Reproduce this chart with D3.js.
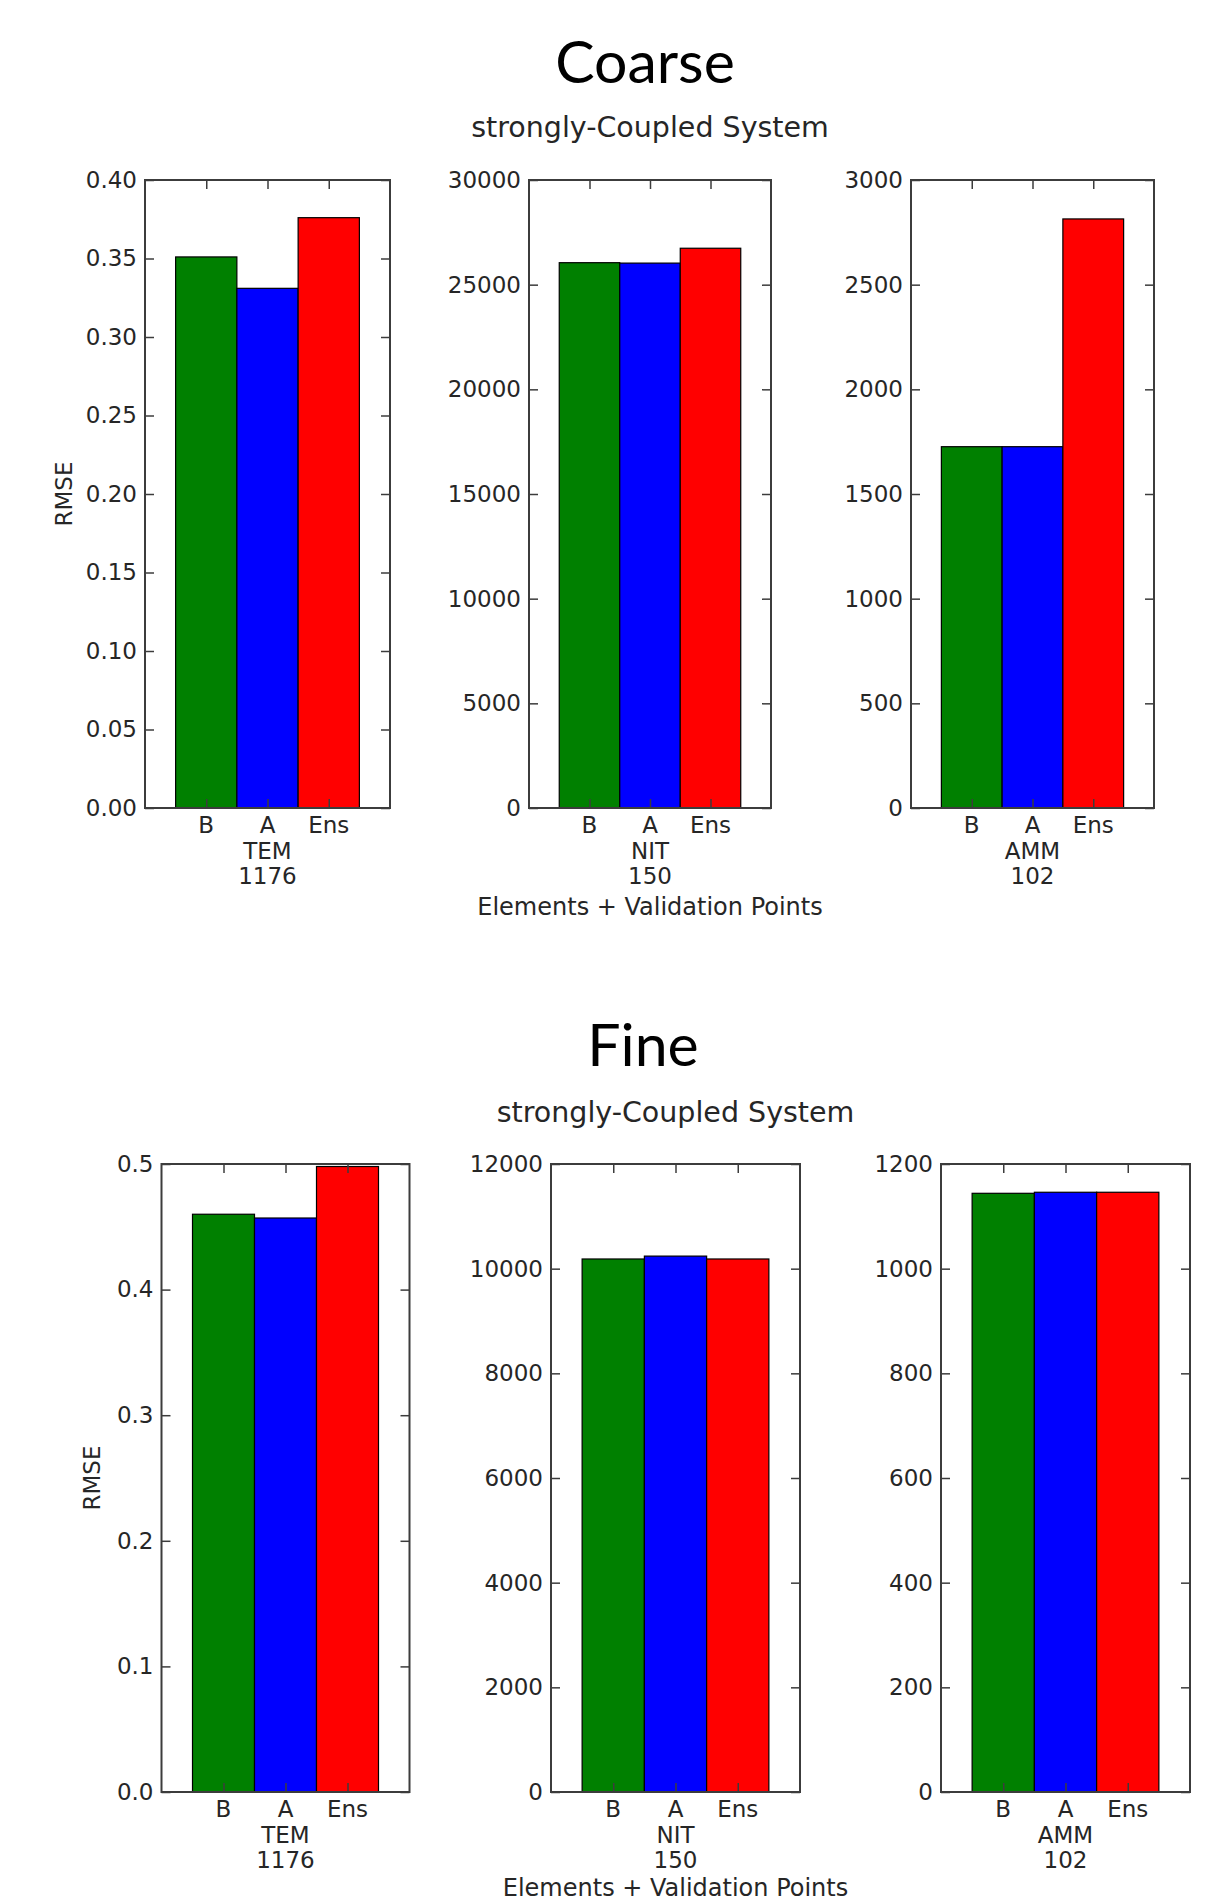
<!DOCTYPE html>
<html>
<head>
<meta charset="utf-8">
<script src="https://cdn.jsdelivr.net/npm/d3@7"></script>
<style>
  body { margin: 0; background: #fff; }
  svg { display: block; }
</style>
</head>
<body>
<script>
// Methods compared in every panel, and their bar colours
const methods = ["B", "A", "Ens"];
const methodColors = ["#008000", "#0000ff", "#ff0000"];

// Variables (one panel each) and their number of elements + validation points
const variables = ["TEM", "NIT", "AMM"];
const validationPoints = [1176, 150, 102];

// RMSE per variable, coarse resolution
const coarseB   = [0.351, 26050, 1726];
const coarseA   = [0.331, 26030, 1726];
const coarseEns = [0.376, 26740, 2814];

// RMSE per variable, fine resolution
const fineB   = [0.460, 10185, 1144];
const fineA   = [0.457, 10240, 1146];
const fineEns = [0.498, 10185, 1146];

// Y-axis tick values per panel
const coarseTicks = [
  [0, 0.05, 0.10, 0.15, 0.20, 0.25, 0.30, 0.35, 0.40],
  [0, 5000, 10000, 15000, 20000, 25000, 30000],
  [0, 500, 1000, 1500, 2000, 2500, 3000]
];
const fineTicks = [
  [0, 0.1, 0.2, 0.3, 0.4, 0.5],
  [0, 2000, 4000, 6000, 8000, 10000, 12000],
  [0, 200, 400, 600, 800, 1000, 1200]
];
const coarseTickFormat = [".2f", "d", "d"];
const fineTickFormat = [".1f", "d", "d"];

const W = 1225, H = 1903;
const svg = d3.select("body").append("svg")
  .attr("width", W).attr("height", H)
  .attr("viewBox", `0 0 ${W} ${H}`);

const tickFont = "'DejaVu Sans', sans-serif";
const axisColor = "#3c3c3c";
const textColor = "#262626";

const sections = [
  {
    title: "Coarse", titleX: 645, titleY: 83, subY: 137,
    top: 180, bottom: 808, ylabelX: 64, xlabelY: 915,
    frames: [[145, 390], [529, 771], [911, 1154]],
    series: [coarseB, coarseA, coarseEns],
    ticks: coarseTicks, fmt: coarseTickFormat
  },
  {
    title: "Fine", titleX: 643, titleY: 1066, subY: 1122,
    top: 1164, bottom: 1792, ylabelX: 92, xlabelY: 1896,
    frames: [[161.5, 409.5], [551, 800], [941, 1190]],
    series: [fineB, fineA, fineEns],
    ticks: fineTicks, fmt: fineTickFormat
  }
];

sections.forEach(sec => {
  const g = svg.append("g");

  // Section heading
  g.append("text")
    .attr("x", sec.titleX).attr("y", sec.titleY)
    .attr("text-anchor", "middle")
    .style("font-family", "Lato, 'Open Sans', sans-serif")
    .style("font-size", "59px")
    .attr("fill", "#000")
    .text(sec.title);

  const midFrame = sec.frames[1];
  const midX = (midFrame[0] + midFrame[1]) / 2;

  // Figure subtitle over the middle panel
  g.append("text")
    .attr("x", midX).attr("y", sec.subY)
    .attr("text-anchor", "middle")
    .style("font-family", tickFont)
    .style("font-size", "28.5px")
    .attr("fill", textColor)
    .text("strongly-Coupled System");

  sec.frames.forEach((fr, p) => {
    const pg = g.append("g");
    const ticks = sec.ticks[p];
    const yMax = ticks[ticks.length - 1];
    const x = d3.scaleLinear().domain([0, 4]).range([fr[0], fr[1]]);
    const y = d3.scaleLinear().domain([0, yMax]).range([sec.bottom, sec.top]);

    const bars = methods.map((m, i) => ({
      method: m, color: methodColors[i], pos: i + 1, value: sec.series[i][p]
    }));

    // Bars
    pg.selectAll("rect.bar").data(bars).enter().append("rect")
      .attr("class", "bar")
      .attr("x", d => x(d.pos - 0.5))
      .attr("width", d => x(d.pos + 0.5) - x(d.pos - 0.5))
      .attr("y", d => y(d.value))
      .attr("height", d => y(0) - y(d.value))
      .attr("fill", d => d.color)
      .attr("stroke", "#000")
      .attr("stroke-width", 1.2);

    // Left axis with inward ticks
    const fmt = d3.format(sec.fmt[p]);
    const left = pg.append("g")
      .attr("transform", `translate(${fr[0]},0)`)
      .call(d3.axisLeft(y).tickValues(ticks).tickFormat(fmt).tickSizeInner(-9).tickSizeOuter(0).tickPadding(8));
    left.select(".domain").remove();
    left.selectAll(".tick line").attr("stroke", axisColor).attr("stroke-width", 1.5);
    left.selectAll(".tick text")
      .style("font-family", tickFont).style("font-size", "23px")
      .attr("fill", textColor);

    // Right axis ticks, inward
    const right = pg.append("g")
      .attr("transform", `translate(${fr[1]},0)`)
      .call(d3.axisRight(y).tickValues(ticks).tickFormat("").tickSizeInner(-9).tickSizeOuter(0));
    right.select(".domain").remove();
    right.selectAll(".tick line").attr("stroke", axisColor).attr("stroke-width", 1.5);

    // Top axis ticks at bar centres, inward
    const top = pg.append("g")
      .attr("transform", `translate(0,${sec.top})`)
      .call(d3.axisTop(x).tickValues([1, 2, 3]).tickFormat("").tickSizeInner(-9).tickSizeOuter(0));
    top.select(".domain").remove();
    top.selectAll(".tick line").attr("stroke", axisColor).attr("stroke-width", 1.5);

    // Bottom axis ticks at bar centres, inward, with method labels
    const bottom = pg.append("g")
      .attr("transform", `translate(0,${sec.bottom})`)
      .call(d3.axisBottom(x).tickValues([1, 2, 3]).tickFormat("").tickSizeInner(-9).tickSizeOuter(0));
    bottom.select(".domain").remove();
    bottom.selectAll(".tick line").attr("stroke", axisColor).attr("stroke-width", 1.5);

    bars.forEach((d, i) => {
      const lines = i === 1 ? [d.method, variables[p], String(validationPoints[p])] : [d.method];
      const t = pg.append("text")
        .attr("x", x(d.pos))
        .attr("y", sec.bottom + 25)
        .attr("text-anchor", "middle")
        .style("font-family", tickFont).style("font-size", "23px")
        .attr("fill", textColor);
      lines.forEach((ln, k) => {
        t.append("tspan").attr("x", x(d.pos)).attr("dy", k === 0 ? 0 : 25.5).text(ln);
      });
    });

    // Axes frame
    pg.append("rect")
      .attr("x", fr[0]).attr("y", sec.top)
      .attr("width", fr[1] - fr[0]).attr("height", sec.bottom - sec.top)
      .attr("fill", "none")
      .attr("stroke", axisColor)
      .attr("stroke-width", 2);

    // Y label on the first panel only
    if (p === 0) {
      const cy = (sec.top + sec.bottom) / 2;
      pg.append("text")
        .attr("transform", `translate(${sec.ylabelX},${cy}) rotate(-90)`)
        .attr("text-anchor", "middle")
        .attr("dy", "0.35em")
        .style("font-family", tickFont).style("font-size", "23px")
        .attr("fill", textColor)
        .text("RMSE");
    }
  });

  // Shared x label under the middle panel
  g.append("text")
    .attr("x", midX).attr("y", sec.xlabelY)
    .attr("text-anchor", "middle")
    .style("font-family", tickFont).style("font-size", "24px")
    .attr("fill", textColor)
    .text("Elements + Validation Points");
});
</script>
</body>
</html>
